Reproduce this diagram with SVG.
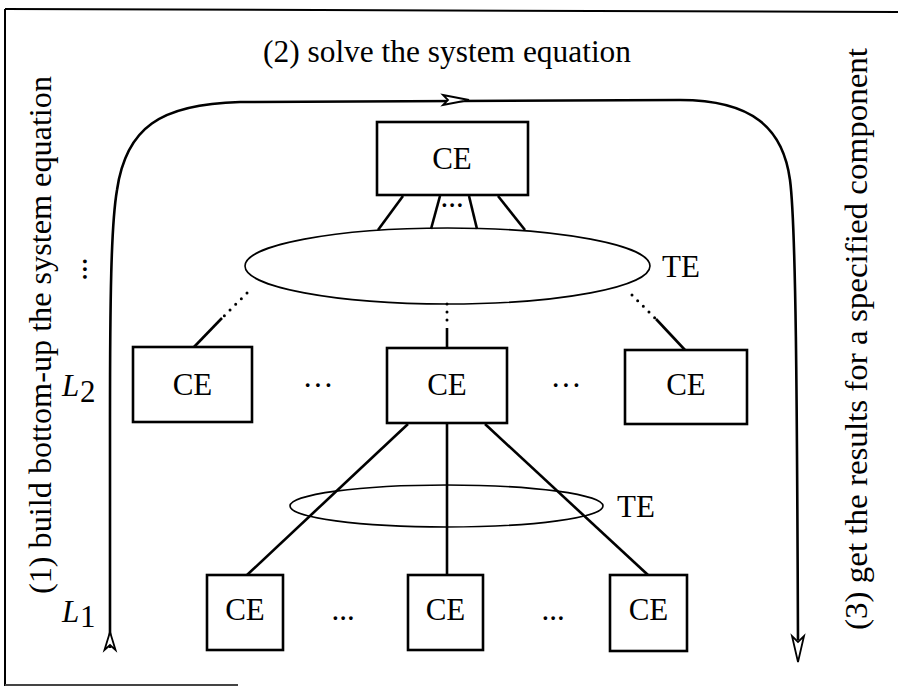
<svg xmlns="http://www.w3.org/2000/svg" width="898" height="687" viewBox="0 0 898 687">
<defs>
<style>
text{font-family:"Liberation Serif","DejaVu Serif",serif;font-size:31px;fill:#000}
.box{fill:#fff;stroke:#000;stroke-width:2.6}
.ell{fill:none;stroke:#000;stroke-width:1.6}
.ln{stroke:#000;stroke-width:2.6;fill:none}
.dot{stroke:#000;stroke-width:3;stroke-linecap:round;stroke-dasharray:0 8;fill:none}
.ah{fill:#fff;stroke:#000;stroke-width:1.8;stroke-linejoin:miter}
.c{text-anchor:middle}
.it{font-style:italic}
</style>
</defs>
<rect width="898" height="687" fill="#fff"/>
<g id="frame" stroke="#000" fill="none">
<line x1="5" y1="9" x2="898" y2="12" stroke-width="2"/>
<line x1="5" y1="9" x2="5" y2="686" stroke-width="2"/>
<line x1="5" y1="685" x2="238" y2="685" stroke-width="2" stroke="#444"/>
</g>
<g id="labels">
<text class="c" x="447" y="62" font-size="32" textLength="368" lengthAdjust="spacingAndGlyphs">(2) solve the system equation</text>
<text transform="translate(51,594) rotate(-90)" font-size="32" textLength="518" lengthAdjust="spacingAndGlyphs">(1) build bottom-up the system equation</text>
<text transform="translate(867,630) rotate(-90)" font-size="32" textLength="582" lengthAdjust="spacingAndGlyphs">(3) get the results for a specified component</text>
<text transform="translate(83,269) rotate(90)" class="c">...</text>
<g id="L2"><text class="it" x="62" y="396" font-size="30">L</text><text x="80" y="402" font-size="21">2</text></g>
<g id="L1"><text class="it" x="62" y="622" font-size="30">L</text><text x="80" y="627" font-size="21">1</text></g>
</g>
<g id="connectors">
<path class="ln" d="M110,648 L110,420 C110,300 111,225 117,190 C126,128 160,104 240,102 L680,100 C752,100 783,128 790,180 C796,225 797,400 798,640"/>
<polygon class="ah" points="110,632 115.5,650 110,645 104.5,650"/>
<polygon class="ah" points="443,95 469,100 443,105 448,100"/>
<polygon class="ah" points="792,636 798,662 804,636 798,642"/>
<line class="ln" x1="403" y1="196" x2="378" y2="230"/>
<line class="ln" x1="440" y1="196" x2="431" y2="229"/>
<line class="ln" x1="469" y1="196" x2="477" y2="229"/>
<line class="ln" x1="498" y1="196" x2="525" y2="230"/>
<line class="dot" x1="247" y1="293" x2="223" y2="317"/>
<line class="ln" x1="222" y1="318" x2="194" y2="347"/>
<line class="dot" x1="447" y1="304" x2="447" y2="328"/>
<line class="ln" x1="447" y1="328" x2="447" y2="348"/>
<line class="dot" x1="632" y1="295" x2="655" y2="318"/>
<line class="ln" x1="656" y1="319" x2="685" y2="350"/>
<line class="ln" x1="408" y1="424" x2="247" y2="575"/>
<line class="ln" x1="447" y1="424" x2="447" y2="575"/>
<line class="ln" x1="485" y1="424" x2="648" y2="575"/>
</g>
<g id="top-ce"><rect class="box" x="377" y="122" width="151" height="73"/><text class="c" x="452" y="169">CE</text><text class="c" x="452" y="207" font-size="24">...</text></g>
<g id="te-top"><ellipse class="ell" cx="447.5" cy="266" rx="202.5" ry="38"/><text x="662" y="277">TE</text></g>
<g id="ce-l2-left"><rect class="box" x="133" y="347" width="119" height="75"/><text class="c" x="192.5" y="395">CE</text></g>
<g id="ce-l2-mid"><rect class="box" x="387" y="348" width="120" height="75"/><text class="c" x="447" y="395">CE</text></g>
<g id="ce-l2-right"><rect class="box" x="625" y="350" width="122" height="74"/><text class="c" x="686" y="395">CE</text></g>
<text class="c" x="318" y="396">···</text>
<text class="c" x="566" y="396">···</text>
<g id="te-low"><ellipse class="ell" cx="446.5" cy="506" rx="156.5" ry="21"/><text x="617" y="517">TE</text></g>
<g id="ce-l1-left"><rect class="box" x="207" y="575" width="76" height="75"/><text class="c" x="245" y="620">CE</text></g>
<g id="ce-l1-mid"><rect class="box" x="408" y="575" width="75" height="75"/><text class="c" x="445.5" y="620">CE</text></g>
<g id="ce-l1-right"><rect class="box" x="610" y="575" width="77" height="76"/><text class="c" x="648.5" y="620">CE</text></g>
<text class="c" x="343" y="620">...</text>
<text class="c" x="553" y="620">...</text>
</svg>
